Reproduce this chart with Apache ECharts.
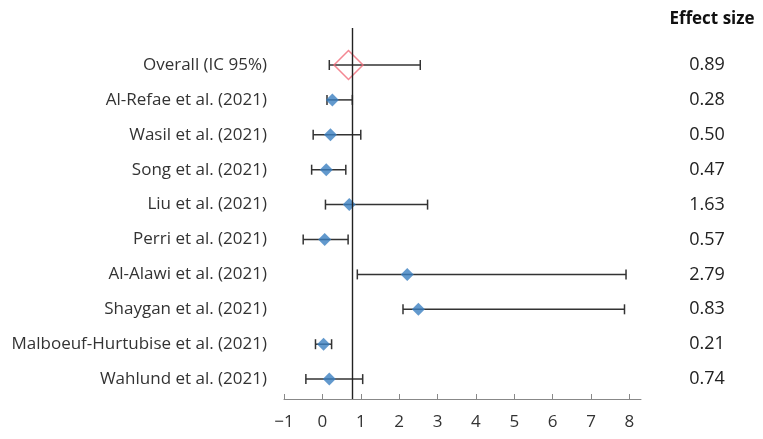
<!DOCTYPE html>
<html><head><meta charset="utf-8">
<script src="https://cdn.jsdelivr.net/npm/echarts@6/dist/echarts.min.js"></script>
<style>html,body{margin:0;padding:0;background:#fff}#c{width:763px;height:439px}</style>
</head><body><div id="c"></div>
<script>
var studies = ['Overall (IC 95%)','Al-Refae et al. (2021)','Wasil et al. (2021)','Song et al. (2021)','Liu et al. (2021)','Perri et al. (2021)','Al-Alawi et al. (2021)','Shaygan et al. (2021)','Malboeuf-Hurtubise et al. (2021)','Wahlund et al. (2021)'];
var estimates = [0.68, 0.26, 0.21, 0.10, 0.70, 0.06, 2.21, 2.50, 0.03, 0.18];
var lower = [0.18, 0.12, -0.24, -0.28, 0.08, -0.50, 0.91, 2.10, -0.18, -0.43];
var upper = [2.55, 0.78, 1.00, 0.61, 2.74, 0.67, 7.91, 7.87, 0.24, 1.05];
var effectSizes = ['0.89','0.28','0.50','0.47','1.63','0.57','2.79','0.83','0.21','0.74'];
var xTicks = [-1,0,1,2,3,4,5,6,7,8];
var refLine = 0.77;
var effectTitle = 'Effect size';

var rowIdx = studies.map(function(_, i){ return i; });
var ciData = rowIdx.map(function(i){ return [lower[i], upper[i], i]; });
var studyPts = rowIdx.slice(1).map(function(i){ return [estimates[i], i]; });
var overallPt = [[estimates[0], 0]];
var FONT = 'Open Sans';

var chart = echarts.init(document.getElementById('c'));
chart.setOption({
  animation: false,
  title: { text: effectTitle, left: 707, top: 6, textAlign: 'center',
    textStyle: { fontFamily: FONT, fontWeight: 'bold', fontSize: 17, color: '#111' } },
  grid: { left: 284, right: 122, top: 28, bottom: 40 },
  xAxis: {
    type: 'value', min: -1, max: 8.3,
    splitLine: { show: false },
    axisLine: { show: true, onZero: false, lineStyle: { color: '#888', width: 1 } },
    axisTick: { show: true, inside: true, length: 5, customValues: xTicks, lineStyle: { color: '#888' } },
    axisLabel: { customValues: xTicks, margin: 15, fontFamily: FONT, fontSize: 17, color: '#333',
      formatter: function(v){ return v < 0 ? '\u2212' + Math.abs(v) : String(v); } }
  },
  yAxis: [{
    type: 'value', inverse: true, min: -1.06, max: 9.57,
    splitLine: { show: false }, axisLine: { show: false }, axisTick: { show: false },
    axisLabel: { customValues: rowIdx, margin: 17, fontFamily: FONT, fontSize: 17, color: '#333',
      formatter: function(v){ return studies[Math.round(v)]; } }
  }, {
    type: 'value', inverse: true, min: -1.06, max: 9.57, position: 'right',
    splitLine: { show: false }, axisLine: { show: false }, axisTick: { show: false },
    axisLabel: { customValues: rowIdx, margin: 66, align: 'center', fontFamily: FONT, fontSize: 18, color: '#222',
      formatter: function(v){ return effectSizes[Math.round(v)]; } }
  }],
  series: [{
    type: 'custom',
    data: ciData,
    renderItem: function(params, api){
      var y = api.value(2);
      var p1 = api.coord([api.value(0), y]);
      var p2 = api.coord([api.value(1), y]);
      var h = 5;
      var st = { stroke: '#333', lineWidth: 1.5 };
      return { type: 'group', children: [
        { type: 'line', shape: { x1: p1[0], y1: p1[1], x2: p2[0], y2: p2[1] }, style: st },
        { type: 'line', shape: { x1: p1[0], y1: p1[1]-h, x2: p1[0], y2: p1[1]+h }, style: st },
        { type: 'line', shape: { x1: p2[0], y1: p2[1]-h, x2: p2[0], y2: p2[1]+h }, style: st }
      ]};
    },
    markLine: {
      silent: true, symbol: 'none', label: { show: false },
      lineStyle: { color: '#222', width: 1.4, type: 'solid' },
      data: [{ xAxis: refLine }]
    },
    z: 2
  }, {
    type: 'scatter', data: studyPts, symbol: 'diamond', symbolSize: 13,
    itemStyle: { color: '#3b7fc0' }, z: 3
  }, {
    type: 'scatter', data: overallPt, symbol: 'diamond', symbolSize: [29, 29],
    itemStyle: { color: 'rgba(0,0,0,0)', borderColor: '#f06a78', borderWidth: 1.5 }, z: 3
  }]
});
</script>
</body></html>
